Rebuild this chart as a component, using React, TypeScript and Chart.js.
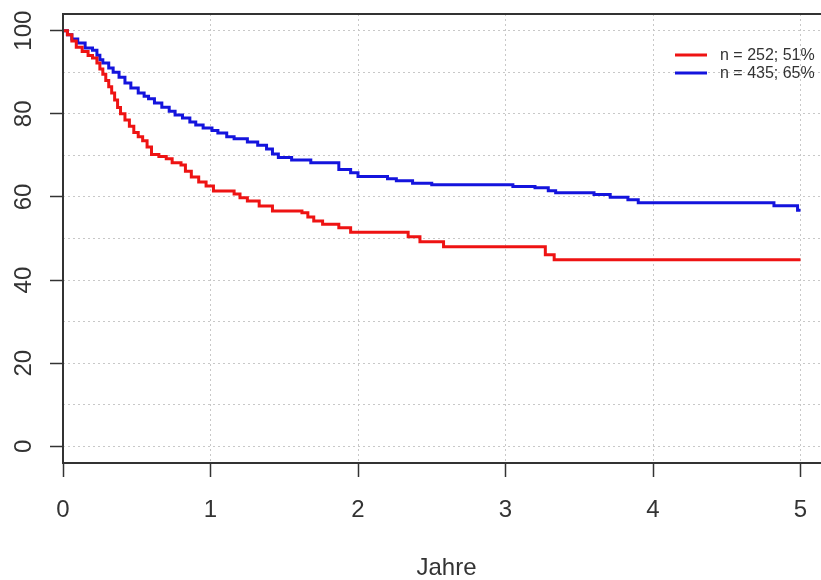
import React, { useEffect, useRef } from "react";
import { Chart, registerables } from "chart.js";

Chart.register(...registerables);

// Kaplan-Meier step curves (time in years, survival in %)
const redTimes = [0, 0.03, 0.06, 0.09, 0.13, 0.17, 0.2, 0.23, 0.25, 0.27, 0.29, 0.31, 0.33, 0.35, 0.37, 0.39, 0.42, 0.45, 0.48, 0.51, 0.54, 0.57, 0.6, 0.65, 0.7, 0.74, 0.8, 0.83, 0.87, 0.92, 0.97, 1.02, 1.16, 1.2, 1.25, 1.33, 1.42, 1.62, 1.66, 1.7, 1.76, 1.87, 1.95, 2.34, 2.42, 2.58, 3.27, 3.33, 5.0];
const redSurv = [100, 99, 97.5, 96, 95, 94, 93.4, 92.2, 90.8, 89.5, 88, 86.5, 85, 83.3, 81.5, 80, 78.5, 77, 75.5, 74.5, 73.5, 72, 70.2, 69.7, 69.2, 68.2, 67.7, 66.2, 64.8, 63.6, 62.6, 61.4, 60.7, 59.8, 59, 57.8, 56.6, 56.2, 55.2, 54.2, 53.4, 52.6, 51.5, 50.4, 49.2, 48.0, 46.1, 44.9, 44.9];

const blueTimes = [0, 0.03, 0.06, 0.1, 0.15, 0.2, 0.23, 0.25, 0.27, 0.31, 0.34, 0.38, 0.42, 0.46, 0.51, 0.55, 0.58, 0.62, 0.67, 0.72, 0.76, 0.81, 0.86, 0.9, 0.95, 1.01, 1.05, 1.11, 1.16, 1.25, 1.32, 1.38, 1.42, 1.46, 1.55, 1.68, 1.87, 1.95, 2.0, 2.2, 2.26, 2.37, 2.5, 3.05, 3.2, 3.29, 3.34, 3.6, 3.71, 3.83, 3.9, 4.82, 4.98, 5.0];
const blueSurv = [100, 99, 98, 97, 95.8, 95.3, 94.1, 93, 92.2, 91, 90, 88.8, 87.4, 86.2, 85, 84.2, 83.6, 82.6, 81.6, 80.6, 79.7, 79, 78, 77.3, 76.6, 76, 75.4, 74.5, 74, 73.2, 72.4, 71.5, 70.3, 69.5, 68.9, 68.2, 66.6, 65.8, 64.9, 64.4, 63.9, 63.3, 62.9, 62.5, 62.2, 61.5, 61, 60.6, 59.9, 59.3, 58.6, 57.9, 56.8, 56.8];

const seriesLabels = ["n = 252; 51%", "n = 435; 65%"];
const seriesColors = ["#ee1313", "#1414dd"];
const xTickValues = [0, 1, 2, 3, 4, 5];
const yLabelValues = [0, 20, 40, 60, 80, 100];
const xTitle = "Jahre";

const FONT = "'Liberation Sans', Arial, Helvetica, sans-serif";
const TEXT = "#333333";

const framePlugin = {
  id: "frameLegend",
  afterDraw(chart: any) {
    const { ctx, chartArea } = chart;
    const { left, top, right, bottom } = chartArea;
    ctx.save();
    ctx.strokeStyle = "#333333";
    ctx.lineWidth = 2;
    ctx.setLineDash([]);
    ctx.strokeRect(left, top, right - left, bottom - top);

    // legend
    const lx0 = right - 155;
    const lx1 = right - 123;
    const tx = right - 110;
    const ys = [top + 41, top + 59];
    chart.data.datasets.forEach((ds: any, i: number) => {
      ctx.strokeStyle = ds.borderColor;
      ctx.lineWidth = 3;
      ctx.beginPath();
      ctx.moveTo(lx0, ys[i]);
      ctx.lineTo(lx1, ys[i]);
      ctx.stroke();
      ctx.fillStyle = TEXT;
      ctx.font = `16px ${FONT}`;
      ctx.textAlign = "left";
      ctx.textBaseline = "middle";
      ctx.fillText(ds.label, tx, ys[i] + 1);
    });
    ctx.restore();
  },
};

export default function App() {
  const ref = useRef<HTMLCanvasElement | null>(null);

  useEffect(() => {
    if (!ref.current) return;
    const toPts = (t: number[], s: number[]) => t.map((x, i) => ({ x, y: s[i] }));
    const chart = new Chart(ref.current, {
      type: "line",
      data: {
        datasets: [
          {
            label: seriesLabels[0],
            data: toPts(redTimes, redSurv),
            borderColor: seriesColors[0],
            borderWidth: 3,
            pointRadius: 0,
            stepped: true,
            fill: false,
          },
          {
            label: seriesLabels[1],
            data: toPts(blueTimes, blueSurv),
            borderColor: seriesColors[1],
            borderWidth: 3,
            pointRadius: 0,
            stepped: true,
            fill: false,
          },
        ],
      },
      options: {
        animation: false,
        responsive: false,
        layout: { padding: { top: 14, left: 0, right: 10, bottom: 0 } },
        plugins: {
          legend: { display: false },
          tooltip: { enabled: false },
        },
        scales: {
          x: {
            type: "linear",
            min: 0,
            max: 5.2,
            afterFit: (s: any) => {
              s.height = 117;
              s.paddingLeft = 0;
              s.paddingRight = 0;
            },
            afterBuildTicks: (s: any) => {
              s.ticks = xTickValues.map((v) => ({ value: v }));
            },
            ticks: {
              autoSkip: false,
              font: { family: FONT, size: 24 },
              color: TEXT,
              padding: 19,
              maxRotation: 0,
              callback: (v: any) => String(v),
            },
            grid: {
              color: "#c8c8c8",
              lineWidth: 1,
              borderDash: [2, 3],
              tickColor: "#333333",
              tickWidth: 1.5,
              tickLength: 14,
              tickBorderDash: [],
            } as any,
            border: { display: false, dash: [2, 3] },
            title: {
              display: true,
              text: xTitle,
              font: { family: FONT, size: 24, lineHeight: 1 },
              color: TEXT,
              padding: { top: 0, bottom: 0 },
            },
          },
          y: {
            type: "linear",
            min: -4,
            max: 104,
            afterFit: (s: any) => {
              s.width = 63;
              s.paddingTop = 0;
              s.paddingBottom = 0;
            },
            afterBuildTicks: (s: any) => {
              const t: any[] = [];
              for (let v = 0; v <= 100; v += 10) t.push({ value: v });
              s.ticks = t;
            },
            ticks: {
              autoSkip: false,
              minRotation: 90,
              maxRotation: 90,
              crossAlign: "center",
              font: { family: FONT, size: 24 },
              color: TEXT,
              padding: 6,
              callback: (v: any) => (yLabelValues.includes(Number(v)) ? String(v) : ""),
            },
            grid: {
              color: "#c8c8c8",
              lineWidth: 1,
              borderDash: [2, 3],
              tickColor: (c: any) =>
                c.tick && yLabelValues.includes(c.tick.value) ? "#333333" : "rgba(0,0,0,0)",
              tickWidth: 1.5,
              tickLength: 13,
              tickBorderDash: [],
            } as any,
            border: { display: false, dash: [2, 3] },
          },
        },
      },
      plugins: [framePlugin],
    } as any);
    return () => chart.destroy();
  }, []);

  return (
    <div
      style={{
        position: "fixed",
        left: 0,
        top: 0,
        width: 821,
        height: 580,
        overflow: "hidden",
        background: "#ffffff",
      }}
    >
      <canvas ref={ref} width={840} height={580} style={{ display: "block" }} />
    </div>
  );
}
